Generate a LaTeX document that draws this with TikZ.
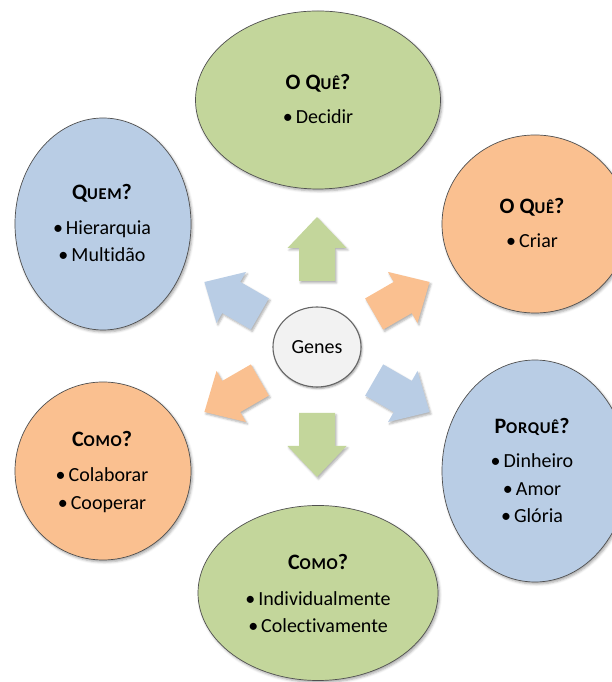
\documentclass[tikz,border=0pt]{standalone}
\usepackage{fontspec}
\setmainfont{Carlito}[Ligatures={NoCommon}]
\usetikzlibrary{shapes.geometric,shadows.blur,calc}

\definecolor{leaf}{HTML}{C3D69B}
\definecolor{peach}{HTML}{FAC090}
\definecolor{sky}{HTML}{B9CDE5}
\definecolor{core}{HTML}{F2F2F2}
\definecolor{rim}{HTML}{505050}

% faked small capitals for the headings
\newcommand{\smcap}[1]{{\fontsize{16.5}{18}\selectfont\addfontfeature{LetterSpace=4}#1}}
\newcommand{\bul}{\textbullet\hspace{3pt}}

% radial block arrow: angle, colour
\newcommand{\blockarrow}[2]{%
  \fill[#2, arrowshade]
    ($(g.center)+(#1:66)+(#1+90:18)$) -- ($(g.center)+(#1:99)+(#1+90:18)$) --
    ($(g.center)+(#1:99)+(#1+90:29.5)$) -- ($(g.center)+(#1:130)$) --
    ($(g.center)+(#1:99)+(#1-90:29.5)$) -- ($(g.center)+(#1:99)+(#1-90:18)$) --
    ($(g.center)+(#1:66)+(#1-90:18)$) -- cycle;}

\tikzset{
  bubble/.style={ellipse, draw=rim, line width=0.7pt, inner sep=0pt,
    blur shadow={shadow xshift=1.5pt, shadow yshift=-2pt, shadow opacity=35, shadow blur radius=2.5pt}},
  arrowshade/.style={blur shadow={shadow xshift=1.5pt, shadow yshift=-2pt, shadow opacity=30, shadow blur radius=2pt}},
  txt/.style={anchor=base, inner sep=0pt, font=\fontsize{20}{24}\selectfont},
  ttl/.style={anchor=base, inner sep=0pt, font=\bfseries\fontsize{22}{26}\selectfont},
}

\begin{document}
\begin{tikzpicture}[x=1pt, y=1pt]
\useasboundingbox (0,0) rectangle (612,682);

% outer ellipses
\node[bubble, fill=leaf,  minimum width=245pt, minimum height=178pt] (what1) at (318,582) {};
\node[bubble, fill=peach, minimum width=186pt, minimum height=178pt] (what2) at (535,458) {};
\node[bubble, fill=sky,   minimum width=176pt, minimum height=212pt] (who)   at (103,458) {};
\node[bubble, fill=sky,   minimum width=186pt, minimum height=222pt] (why)   at (535,211) {};
\node[bubble, fill=peach, minimum width=176pt, minimum height=178pt] (how1)  at (103,211) {};
\node[bubble, fill=leaf,  minimum width=240pt, minimum height=175pt] (how2)  at (318,89) {};

% centre
\node[ellipse, draw=gray!80!black, line width=1.1pt, fill=core, minimum width=88pt, minimum height=80pt,
      inner sep=0pt, blur shadow={shadow xshift=1pt, shadow yshift=-1.5pt, shadow opacity=40, shadow blur radius=2pt}]
      (g) at (317,335) {\fontsize{20}{22}\selectfont Genes};

% arrows radiating from the centre
\blockarrow{90}{leaf}
\blockarrow{30}{peach}
\blockarrow{-30}{sky}
\blockarrow{-90}{leaf}
\blockarrow{-150}{peach}
\blockarrow{150}{sky}

% texts
\node[ttl] (t1) at (318,592) {O Q\smcap{UÊ}?};
\node[txt] (t1a) at (318,558) {\bul Decidir};

\node[ttl] (t2) at (532,468) {O Q\smcap{UÊ}?};
\node[txt] (t2a) at (532,434) {\bul Criar};

\node[ttl] (t3) at (102,482) {Q\smcap{UEM}?};
\node[txt] (t3a) at (102,447) {\bul Hierarquia};
\node[txt] (t3b) at (102,420) {\bul Multidão};

\node[ttl] (t4) at (532,248) {P\smcap{ORQUÊ}?};
\node[txt] (t4a) at (532,214) {\bul Dinheiro};
\node[txt] (t4b) at (532,186) {\bul Amor};
\node[txt] (t4c) at (532,159) {\bul Glória};

\node[ttl] (t5) at (102,235) {C\smcap{OMO}?};
\node[txt] (t5a) at (102,200) {\bul Colaborar};
\node[txt] (t5b) at (102,172) {\bul Cooperar};

\node[ttl] (t6) at (318,112) {C\smcap{OMO}?};
\node[txt] (t6a) at (318,76) {\bul Individualmente};
\node[txt] (t6b) at (318,49) {\bul Colectivamente};
\end{tikzpicture}
\end{document}
